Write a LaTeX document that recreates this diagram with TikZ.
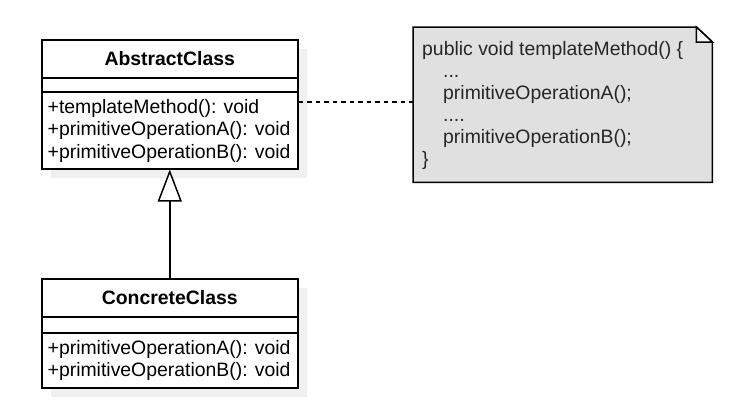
\documentclass[tikz,border=0pt]{standalone}
\usepackage{fontspec}
\setmainfont{Liberation Sans}
\usetikzlibrary{arrows.meta,calc}
\definecolor{shadowgray}{HTML}{F0F0F0}
\definecolor{notegray}{HTML}{E0E0E0}
\definecolor{notefold}{HTML}{F7F7F7}
\tikzset{
  x=1pt, y=-1pt,
  umlpart/.style={draw=black, line width=1.5pt, fill=white, minimum width=256pt, inner sep=0pt, anchor=north west},
  shadowbox/.style={fill=shadowgray, draw=none},
  classname/.style={font=\fontsize{19.4}{22}\selectfont\bfseries, inner sep=0pt, anchor=center},
  member/.style={font=\fontsize{19.4}{22}\selectfont, inner sep=0pt, anchor=base west},
  notetext/.style={font=\fontsize{19.4}{22}\selectfont, inner sep=0pt, anchor=base west, text=black!85},
  inherit/.style={line width=1.5pt, -{Triangle[open, length=32pt, width=24pt, fill=white]}},
  dashlink/.style={line width=1.5pt, dash pattern=on 4.5pt off 4pt},
}
\begin{document}
\begin{tikzpicture}
\useasboundingbox (0,0) rectangle (746,407);
\fill[white] (0,0) rectangle (746,407);

% shadows
\fill[shadowbox] (51,49) rectangle (307,178);
\fill[shadowbox] (51,288) rectangle (307,397);

% AbstractClass
\node[umlpart, minimum height=38pt] (absHead) at (41,39) {};
\node[umlpart, minimum height=14pt] (absAttr) at (41,77) {};
\node[umlpart, minimum height=77pt] (absOps) at (41,91) {};
\node[classname] (absName) at (absHead.center) {AbstractClass};
\node[member] (absM1) at (47.5,113) {+templateMethod(): void};
\node[member] (absM2) at (47.5,135.5) {+primitiveOperationA(): void};
\node[member] (absM3) at (47.5,158) {+primitiveOperationB(): void};

% ConcreteClass
\node[umlpart, minimum height=38pt] (conHead) at (41,278) {};
\node[umlpart, minimum height=16pt] (conAttr) at (41,316) {};
\node[umlpart, minimum height=55pt] (conOps) at (41,332) {};
\node[classname] (conName) at (conHead.center) {ConcreteClass};
\node[member] (conM1) at (47.5,354) {+primitiveOperationA(): void};
\node[member] (conM2) at (47.5,376.5) {+primitiveOperationB(): void};

% Note
\node[draw=none, inner sep=0pt, minimum width=299pt, minimum height=155pt, anchor=north west] (note) at (413,27) {};
\draw[line width=1.5pt, fill=notegray] (note.north west) -- ($(note.north east)+(-16,0)$) -- ($(note.north east)+(0,15)$) -- (note.south east) -- (note.south west) -- cycle;
\draw[line width=1.5pt, fill=notefold] ($(note.north east)+(-16,0)$) -- ($(note.north east)+(-16,15)$) -- ($(note.north east)+(0,15)$) -- cycle;
\node[notetext] (n1) at (422,55) {public void templateMethod() \{};
\node[notetext] (n2) at (443,77) {...};
\node[notetext] (n3) at (443,99.5) {primitiveOperationA();};
\node[notetext] (n4) at (443,121.5) {....};
\node[notetext] (n5) at (443,143.5) {primitiveOperationB();};
\node[notetext] (n6) at (422,165) {\}};

% connectors
\coordinate (dashy) at (0,102);
\draw[dashlink] (absOps.east |- dashy) -- (note.west |- dashy);
\draw[inherit] (conHead.north) -- (absOps.south);
\end{tikzpicture}
\end{document}
